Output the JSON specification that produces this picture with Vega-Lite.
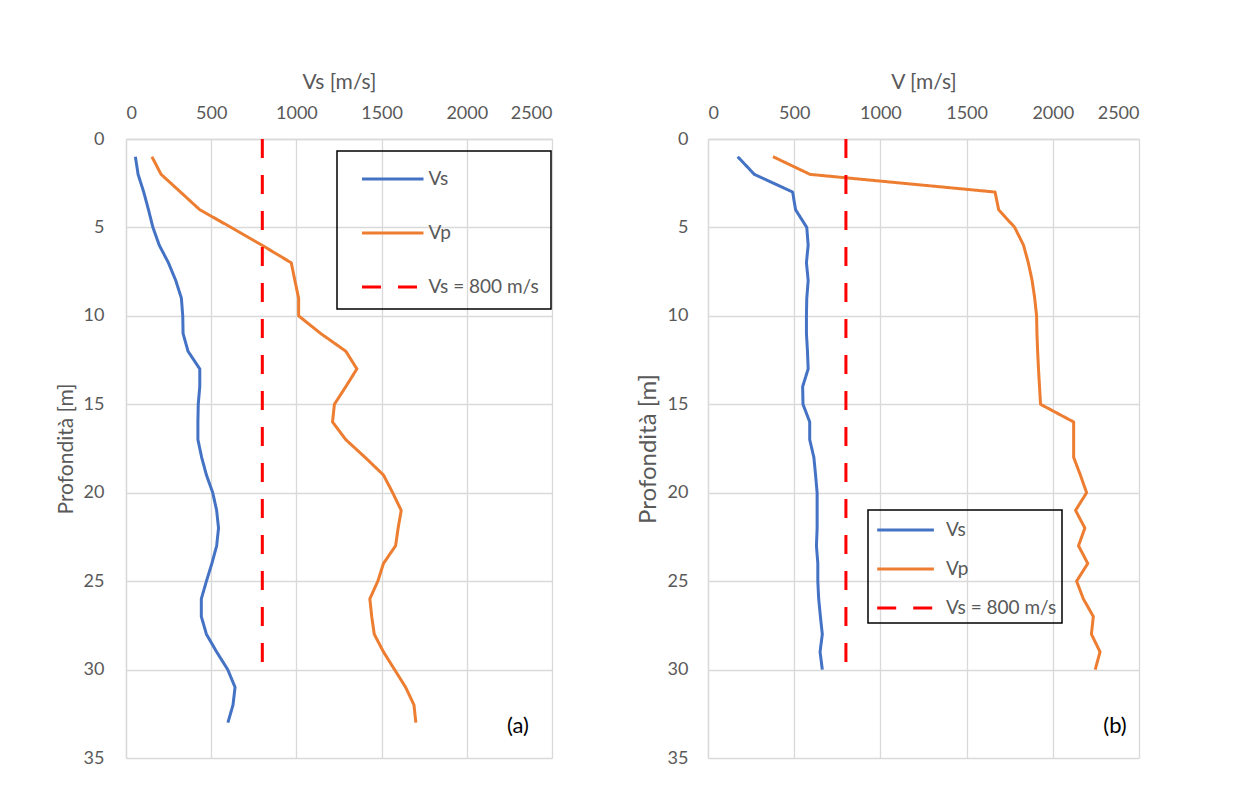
{
  "$schema": "https://vega.github.io/schema/vega-lite/v6.json",
  "background": "white",
  "padding": {"left": 55, "top": 71, "right": 5, "bottom": 5},
  "datasets": {
    "a": [
      {"series": "Vs", "depth": 1, "v": 55}, {"series": "Vs", "depth": 2, "v": 71}, {"series": "Vs", "depth": 3, "v": 104},
      {"series": "Vs", "depth": 4, "v": 132}, {"series": "Vs", "depth": 5, "v": 158}, {"series": "Vs", "depth": 6, "v": 195},
      {"series": "Vs", "depth": 7, "v": 249}, {"series": "Vs", "depth": 8, "v": 292}, {"series": "Vs", "depth": 9, "v": 325},
      {"series": "Vs", "depth": 10, "v": 333}, {"series": "Vs", "depth": 11, "v": 335}, {"series": "Vs", "depth": 12, "v": 364},
      {"series": "Vs", "depth": 13, "v": 433}, {"series": "Vs", "depth": 14, "v": 433}, {"series": "Vs", "depth": 15, "v": 424},
      {"series": "Vs", "depth": 16, "v": 422}, {"series": "Vs", "depth": 17, "v": 422}, {"series": "Vs", "depth": 18, "v": 444},
      {"series": "Vs", "depth": 19, "v": 472}, {"series": "Vs", "depth": 20, "v": 509}, {"series": "Vs", "depth": 21, "v": 532},
      {"series": "Vs", "depth": 22, "v": 543}, {"series": "Vs", "depth": 23, "v": 532}, {"series": "Vs", "depth": 24, "v": 504},
      {"series": "Vs", "depth": 25, "v": 472}, {"series": "Vs", "depth": 26, "v": 442}, {"series": "Vs", "depth": 27, "v": 442},
      {"series": "Vs", "depth": 28, "v": 472}, {"series": "Vs", "depth": 29, "v": 532}, {"series": "Vs", "depth": 30, "v": 597},
      {"series": "Vs", "depth": 31, "v": 640}, {"series": "Vs", "depth": 32, "v": 628}, {"series": "Vs", "depth": 33, "v": 598},
      {"series": "Vp", "depth": 1, "v": 152}, {"series": "Vp", "depth": 2, "v": 206}, {"series": "Vp", "depth": 3, "v": 320},
      {"series": "Vp", "depth": 4, "v": 433}, {"series": "Vp", "depth": 5, "v": 617}, {"series": "Vp", "depth": 6, "v": 797},
      {"series": "Vp", "depth": 7, "v": 970}, {"series": "Vp", "depth": 8, "v": 991}, {"series": "Vp", "depth": 9, "v": 1013},
      {"series": "Vp", "depth": 10, "v": 1013}, {"series": "Vp", "depth": 11, "v": 1143}, {"series": "Vp", "depth": 12, "v": 1290},
      {"series": "Vp", "depth": 13, "v": 1355}, {"series": "Vp", "depth": 14, "v": 1290}, {"series": "Vp", "depth": 15, "v": 1223},
      {"series": "Vp", "depth": 16, "v": 1212}, {"series": "Vp", "depth": 17, "v": 1290}, {"series": "Vp", "depth": 18, "v": 1403},
      {"series": "Vp", "depth": 19, "v": 1511}, {"series": "Vp", "depth": 20, "v": 1565}, {"series": "Vp", "depth": 21, "v": 1615},
      {"series": "Vp", "depth": 22, "v": 1597}, {"series": "Vp", "depth": 23, "v": 1582}, {"series": "Vp", "depth": 24, "v": 1511},
      {"series": "Vp", "depth": 25, "v": 1478}, {"series": "Vp", "depth": 26, "v": 1431}, {"series": "Vp", "depth": 27, "v": 1442},
      {"series": "Vp", "depth": 28, "v": 1457}, {"series": "Vp", "depth": 29, "v": 1511}, {"series": "Vp", "depth": 30, "v": 1576},
      {"series": "Vp", "depth": 31, "v": 1641}, {"series": "Vp", "depth": 32, "v": 1690}, {"series": "Vp", "depth": 33, "v": 1701},
      {"series": "Vs = 800 m/s", "depth": 0, "v": 800}, {"series": "Vs = 800 m/s", "depth": 30, "v": 800}
    ],
    "b": [
      {"series": "Vs", "depth": 1, "v": 172}, {"series": "Vs", "depth": 2, "v": 269}, {"series": "Vs", "depth": 3, "v": 491},
      {"series": "Vs", "depth": 4, "v": 508}, {"series": "Vs", "depth": 5, "v": 573}, {"series": "Vs", "depth": 6, "v": 581},
      {"series": "Vs", "depth": 7, "v": 571}, {"series": "Vs", "depth": 8, "v": 581}, {"series": "Vs", "depth": 9, "v": 573},
      {"series": "Vs", "depth": 10, "v": 571}, {"series": "Vs", "depth": 11, "v": 571}, {"series": "Vs", "depth": 12, "v": 577},
      {"series": "Vs", "depth": 13, "v": 581}, {"series": "Vs", "depth": 14, "v": 549}, {"series": "Vs", "depth": 15, "v": 551},
      {"series": "Vs", "depth": 16, "v": 590}, {"series": "Vs", "depth": 17, "v": 590}, {"series": "Vs", "depth": 18, "v": 614},
      {"series": "Vs", "depth": 19, "v": 624}, {"series": "Vs", "depth": 20, "v": 633}, {"series": "Vs", "depth": 21, "v": 633},
      {"series": "Vs", "depth": 22, "v": 633}, {"series": "Vs", "depth": 23, "v": 629}, {"series": "Vs", "depth": 24, "v": 637},
      {"series": "Vs", "depth": 25, "v": 637}, {"series": "Vs", "depth": 26, "v": 642}, {"series": "Vs", "depth": 27, "v": 652},
      {"series": "Vs", "depth": 28, "v": 663}, {"series": "Vs", "depth": 29, "v": 650}, {"series": "Vs", "depth": 30, "v": 663},
      {"series": "Vp", "depth": 1, "v": 377}, {"series": "Vp", "depth": 2, "v": 592}, {"series": "Vp", "depth": 3, "v": 1665},
      {"series": "Vp", "depth": 4, "v": 1686}, {"series": "Vp", "depth": 5, "v": 1779}, {"series": "Vp", "depth": 6, "v": 1830},
      {"series": "Vp", "depth": 7, "v": 1858}, {"series": "Vp", "depth": 8, "v": 1880}, {"series": "Vp", "depth": 9, "v": 1895},
      {"series": "Vp", "depth": 10, "v": 1906}, {"series": "Vp", "depth": 11, "v": 1908}, {"series": "Vp", "depth": 12, "v": 1912},
      {"series": "Vp", "depth": 13, "v": 1917}, {"series": "Vp", "depth": 14, "v": 1923}, {"series": "Vp", "depth": 15, "v": 1929},
      {"series": "Vp", "depth": 16, "v": 2121}, {"series": "Vp", "depth": 17, "v": 2121}, {"series": "Vp", "depth": 18, "v": 2121},
      {"series": "Vp", "depth": 19, "v": 2160}, {"series": "Vp", "depth": 20, "v": 2196}, {"series": "Vp", "depth": 21, "v": 2132},
      {"series": "Vp", "depth": 22, "v": 2186}, {"series": "Vp", "depth": 23, "v": 2149}, {"series": "Vp", "depth": 24, "v": 2203},
      {"series": "Vp", "depth": 25, "v": 2138}, {"series": "Vp", "depth": 26, "v": 2177}, {"series": "Vp", "depth": 27, "v": 2235},
      {"series": "Vp", "depth": 28, "v": 2224}, {"series": "Vp", "depth": 29, "v": 2274}, {"series": "Vp", "depth": 30, "v": 2246},
      {"series": "Vs = 800 m/s", "depth": 0, "v": 800}, {"series": "Vs = 800 m/s", "depth": 30, "v": 800}
    ]
  },
  "config": {
    "font": "Lato",
    "view": {"stroke": null},
    "axis": {
      "gridColor": "#D9D9D9", "gridWidth": 1.3, "domainColor": "#D9D9D9", "domainWidth": 1.3,
      "ticks": false, "labelColor": "#595959", "labelFontSize": 18, "labelFont": "Lato",
      "titleColor": "#595959", "titleFontWeight": "normal", "titleFont": "Lato"
    },
    "legend": {"strokeWidth": 1.5}
  },
  "resolve": {"scale": {"color": "independent", "strokeDash": "independent", "strokeWidth": "independent"}, "legend": {"color": "independent", "strokeDash": "independent"}},
  "spacing": 84,
  "hconcat": [
    {
      "width": 426, "height": 619,
      "layer": [
        {
          "data": {"name": "a"},
          "mark": {"type": "line", "strokeCap": "butt", "strokeJoin": "round"},
          "encoding": {
            "x": {"field": "v", "type": "quantitative", "scale": {"domain": [0, 2500], "nice": false},
                  "axis": {"orient": "top", "title": "Vs [m/s]", "format": "d", "values": [0, 500, 1000, 1500, 2000, 2500], "labelPadding": 17, "titlePadding": 12, "titleFontSize": 21}},
            "y": {"field": "depth", "type": "quantitative", "scale": {"domain": [0, 35], "reverse": true, "nice": false},
                  "axis": {"title": "Profondità [m]", "values": [0, 5, 10, 15, 20, 25, 30, 35], "labelPadding": 22, "titlePadding": 7, "titleFontSize": 21}},
            "order": {"field": "depth", "type": "quantitative"},
            "color": {"field": "series", "type": "nominal",
                      "scale": {"domain": ["Vs", "Vp", "Vs = 800 m/s"], "range": ["#4472C4", "#ED7D31", "#FF0000"]},
                      "legend": {"orient": "none", "legendX": 211, "legendY": 12, "title": null, "strokeColor": "black", "padding": 11.5,
                                 "rowPadding": 27, "symbolType": "M-0.2,0H3.9", "symbolSize": 900, "labelOffset": 47,
                                 "symbolStrokeWidth": 3.5, "labelFontSize": 19, "labelColor": "#595959", "labelFont": "Lato"}},
            "strokeDash": {"field": "series", "type": "nominal",
                           "scale": {"domain": ["Vs", "Vp", "Vs = 800 m/s"], "range": [[1, 0], [1, 0], [19, 17]]},
                           "legend": {"orient": "none", "legendX": 211, "legendY": 12, "title": null, "strokeColor": "black", "padding": 11.5,
                                 "rowPadding": 27, "symbolType": "M-0.2,0H3.9", "symbolSize": 900, "labelOffset": 47,
                                 "symbolStrokeWidth": 3.5, "labelFontSize": 19, "labelColor": "#595959", "labelFont": "Lato"}},
            "strokeWidth": {"field": "series", "type": "nominal",
                            "scale": {"domain": ["Vs", "Vp", "Vs = 800 m/s"], "range": [3, 3, 4.5]}, "legend": null}
          }
        },
        {
          "data": {"values": [{"label": "(a)"}]},
          "mark": {"type": "text", "fontSize": 22, "color": "black", "font": "Lato"},
          "encoding": {"x": {"datum": 2300}, "y": {"datum": 33.2}, "text": {"field": "label"}}
        }
      ]
    },
    {
      "width": 431, "height": 619,
      "layer": [
        {
          "data": {"name": "b"},
          "mark": {"type": "line", "strokeCap": "butt", "strokeJoin": "round"},
          "encoding": {
            "x": {"field": "v", "type": "quantitative", "scale": {"domain": [0, 2500], "nice": false},
                  "axis": {"orient": "top", "title": "V [m/s]", "format": "d", "values": [0, 500, 1000, 1500, 2000, 2500], "labelPadding": 17, "titlePadding": 12, "titleFontSize": 21}},
            "y": {"field": "depth", "type": "quantitative", "scale": {"domain": [0, 35], "reverse": true, "nice": false},
                  "axis": {"title": "Profondità [m]", "values": [0, 5, 10, 15, 20, 25, 30, 35], "labelPadding": 20, "titlePadding": 7, "titleFontSize": 24}},
            "order": {"field": "depth", "type": "quantitative"},
            "color": {"field": "series", "type": "nominal",
                      "scale": {"domain": ["Vs", "Vp", "Vs = 800 m/s"], "range": ["#4472C4", "#ED7D31", "#FF0000"]},
                      "legend": {"orient": "none", "legendX": 160, "legendY": 371, "title": null, "strokeColor": "black", "padding": 5,
                                 "rowPadding": 14, "symbolType": "M-0.8,0H3.4", "symbolSize": 729, "labelOffset": 43,
                                 "symbolStrokeWidth": 3.5, "labelFontSize": 19, "labelColor": "#595959", "labelFont": "Lato"}},
            "strokeDash": {"field": "series", "type": "nominal",
                           "scale": {"domain": ["Vs", "Vp", "Vs = 800 m/s"], "range": [[1, 0], [1, 0], [19, 17]]},
                           "legend": {"orient": "none", "legendX": 160, "legendY": 371, "title": null, "strokeColor": "black", "padding": 5,
                                 "rowPadding": 14, "symbolType": "M-0.8,0H3.4", "symbolSize": 729, "labelOffset": 43,
                                 "symbolStrokeWidth": 3.5, "labelFontSize": 19, "labelColor": "#595959", "labelFont": "Lato"}},
            "strokeWidth": {"field": "series", "type": "nominal",
                            "scale": {"domain": ["Vs", "Vp", "Vs = 800 m/s"], "range": [3, 3, 4.5]}, "legend": null}
          }
        },
        {
          "data": {"values": [{"label": "(b)"}]},
          "mark": {"type": "text", "fontSize": 22, "color": "black", "font": "Lato"},
          "encoding": {"x": {"datum": 2361}, "y": {"datum": 33.2}, "text": {"field": "label"}}
        }
      ]
    }
  ]
}
